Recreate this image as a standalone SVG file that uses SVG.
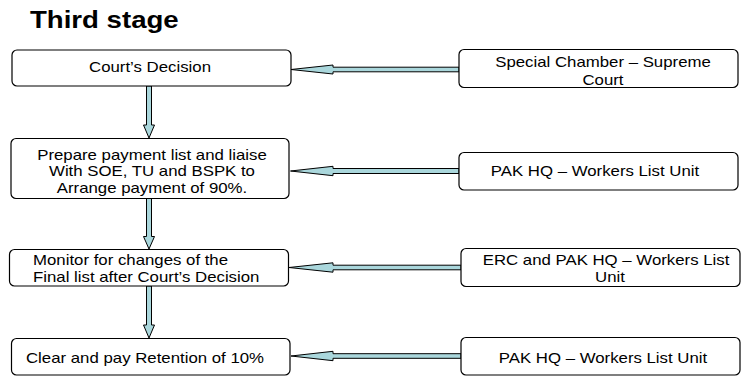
<svg xmlns="http://www.w3.org/2000/svg" width="747" height="376" viewBox="0 0 747 376">
<style>
.box{fill:#fff;stroke:#000;stroke-width:1.2}
.arr{fill:#aad7dc;stroke:#000;stroke-width:1;stroke-linejoin:miter}
.t{font-family:"Liberation Sans",Arial,sans-serif;font-size:14px;fill:#000}
.c{text-anchor:middle}
.title{font-family:"Liberation Sans",Arial,sans-serif;font-size:23px;font-weight:bold;fill:#000}
</style>
<rect width="747" height="376" fill="#fff"/>
<text class="title" transform="translate(30,28) scale(1.2,1)">Third stage</text>
<g id="connectors">
<polygon class="arr" points="146.5,86 151.5,86 151.5,125 154.5,125 149,138 143.5,125 146.5,125"/>
<polygon class="arr" points="146.5,198 151.5,198 151.5,236.5 154.5,236.5 149,249 143.5,236.5 146.5,236.5"/>
<polygon class="arr" points="146.5,286 151.5,286 151.5,325 154.5,325 149,338 143.5,325 146.5,325"/>
<polygon class="arr" points="291,69.5 333,65 333,67.2 459,67.2 459,71.8 333,71.8 333,74"/>
<polygon class="arr" points="290.5,171 333,166.3 333,168.5 459,168.5 459,173.5 333,173.5 333,175.7"/>
<polygon class="arr" points="289,267.5 333,262.8 333,265.2 461,265.2 461,269.8 333,269.8 333,272.2"/>
<polygon class="arr" points="291,356 333,351.3 333,353.7 461,353.7 461,358.3 333,358.3 333,360.7"/>
</g>
<g id="n1">
<rect class="box" x="12" y="50" width="279" height="36" rx="5"/>
<text class="t c" transform="translate(150,71.5) scale(1.2,1)">Court’s Decision</text>
</g>
<g id="n2">
<rect class="box" x="11" y="138.5" width="278" height="60" rx="5"/>
<text class="t c" transform="translate(152,159.5) scale(1.2,1)"><tspan x="0" y="0">Prepare payment list and liaise</tspan><tspan x="0" y="17">With SOE, TU and BSPK to</tspan><tspan x="0" y="34">Arrange payment of 90%.</tspan></text>
</g>
<g id="n3">
<rect class="box" x="9.5" y="249.5" width="279" height="36.5" rx="5"/>
<text class="t" transform="translate(33,265) scale(1.2,1)"><tspan x="0" y="0">Monitor for changes of the</tspan><tspan x="0" y="17">Final list after Court’s Decision</tspan></text>
</g>
<g id="n4">
<rect class="box" x="11.5" y="338.5" width="278.5" height="36.5" rx="5"/>
<text class="t" transform="translate(26,363) scale(1.2,1)">Clear and pay Retention of 10%</text>
</g>
<g id="n5">
<rect class="box" x="459" y="49.5" width="279" height="38" rx="5"/>
<text class="t c" transform="translate(603,67.3) scale(1.2,1)"><tspan x="0" y="0">Special Chamber – Supreme</tspan><tspan x="0" y="17.7">Court</tspan></text>
</g>
<g id="n6">
<rect class="box" x="459" y="152.5" width="279" height="37.5" rx="5"/>
<text class="t c" transform="translate(595,176) scale(1.2,1)">PAK HQ – Workers List Unit</text>
</g>
<g id="n7">
<rect class="box" x="461" y="248.5" width="279" height="38" rx="5"/>
<text class="t c" transform="translate(606,265) scale(1.2,1)">ERC and PAK HQ – Workers List</text>
<text class="t c" transform="translate(610,282) scale(1.2,1)">Unit</text>
</g>
<g id="n8">
<rect class="box" x="461" y="337.5" width="279" height="37.5" rx="5"/>
<text class="t c" transform="translate(603,363) scale(1.2,1)">PAK HQ – Workers List Unit</text>
</g>
</svg>
